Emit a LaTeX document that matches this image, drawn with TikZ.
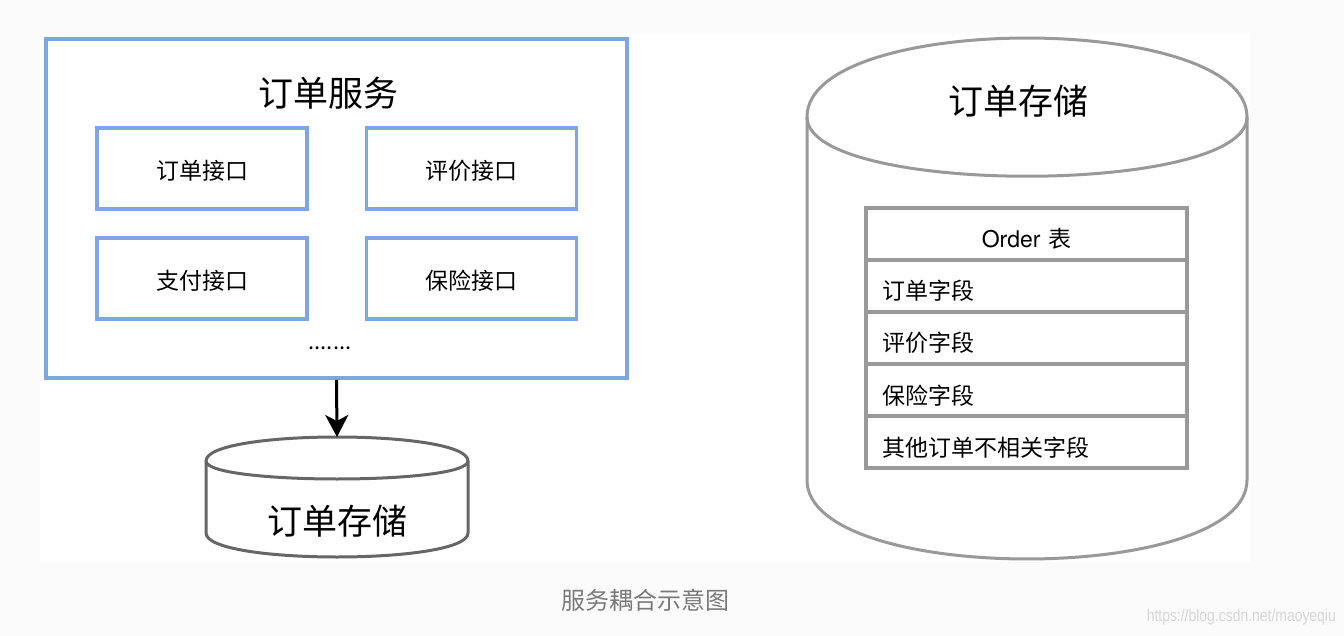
\documentclass[tikz,border=0pt]{standalone}
\usepackage{fontspec}
\setmainfont{Noto Sans CJK SC}
\newfontfamily\herosfont{TeX Gyre Heros}
\newfontfamily\wmfont{Liberation Sans}
\usetikzlibrary{arrows.meta}
\definecolor{boxblue}{HTML}{7EA6E0}
\definecolor{cylgray}{HTML}{999999}
\definecolor{smallgray}{HTML}{666666}
\definecolor{pagegray}{HTML}{FBFBFB}
\definecolor{capgray}{HTML}{7A7A7A}
\definecolor{wmgray}{HTML}{D6D6D6}
\tikzset{
  bluebox/.style={draw=boxblue, line width=3.6pt, fill=white, inner sep=0pt},
  ifbox/.style={bluebox, minimum width=210pt, minimum height=81pt,
                text height=24pt, text depth=2pt,
                font=\fontsize{23}{26}\selectfont},
  bigtext/.style={font=\fontsize{35}{40}\selectfont, inner sep=0pt},
  rowbox/.style={draw=cylgray, line width=3.4pt, fill=white, minimum height=52pt,
                 text width=289pt, inner xsep=16pt, inner ysep=0pt, align=left,
                 text height=30pt, text depth=2pt,
                 font=\fontsize{23}{26}\selectfont},
  headbox/.style={rowbox, align=center},
  cylline/.style={line width=3pt, line join=round},
  arrowline/.style={line width=3pt, -{Stealth[length=22pt,width=23pt,inset=6pt]}}
}
\begin{document}
\begin{tikzpicture}[x=1pt,y=-1pt]
\fill[pagegray] (0,0) rectangle (1344,636);
\fill[white] (40,33) rectangle (1250,562);
\useasboundingbox (0,0) rectangle (1344,636);

% ---- order service box ----
\node[bluebox, minimum width=581pt, minimum height=339pt] (svc) at (336.5,208.5) {};
\node[bigtext] (svctitle) at (328,93) {订单服务};
\node[ifbox] (if1) at (202,168.5) {订单接口};
\node[ifbox] (if2) at (471.5,168.5) {评价接口};
\node[ifbox] (if3) at (202,278.5) {支付接口};
\node[ifbox] (if4) at (471.5,278.5) {保险接口};
\node[anchor=base, font=\fontsize{22}{24}\selectfont, inner sep=0pt] (dots) at (330,349) {.......};

% ---- small storage cylinder ----
\draw[cylline, draw=smallgray, fill=white]
  (206,461) .. controls (206,429) and (468,429) .. (468,461)
  -- (468,533) .. controls (468,565) and (206,565) .. (206,533) -- cycle;
\draw[cylline, draw=smallgray]
  (206,461) .. controls (206,485) and (468,485) .. (468,461);
\coordinate (dbtop) at (337,437);
\node[bigtext] (dbtitle) at (337,521) {订单存储};

\draw[arrowline] (svc.south) -- (dbtop);

% ---- big storage cylinder ----
\draw[cylline, draw=cylgray, fill=white]
  (807,117) .. controls (807,11.7) and (1247,11.7) .. (1247,117)
  -- (1247,480) .. controls (1247,585.3) and (807,585.3) .. (807,480) -- cycle;
\draw[cylline, draw=cylgray]
  (807,117) .. controls (807,196) and (1247,196) .. (1247,117);
\node[bigtext] (bigtitle) at (1018,101) {订单存储};

% ---- Order table ----
\node[headbox] (r0) at (1026.5,234) {{\herosfont Order} 表};
\node[rowbox] (r1) at (1026.5,286) {订单字段};
\node[rowbox] (r2) at (1026.5,338) {评价字段};
\node[rowbox] (r3) at (1026.5,390) {保险字段};
\node[rowbox] (r4) at (1026.5,442) {其他订单不相关字段};

% ---- caption and watermark ----
\node[font=\fontsize{24}{26}\selectfont, text=capgray, inner sep=0pt] (caption) at (645,600) {服务耦合示意图};
\node[font=\wmfont\fontsize{17}{19}\selectfont, text=wmgray, inner sep=0pt, anchor=east, xscale=0.82] (wm) at (1336,617) {https://blog.csdn.net/maoyeqiu};
\end{tikzpicture}
\end{document}
